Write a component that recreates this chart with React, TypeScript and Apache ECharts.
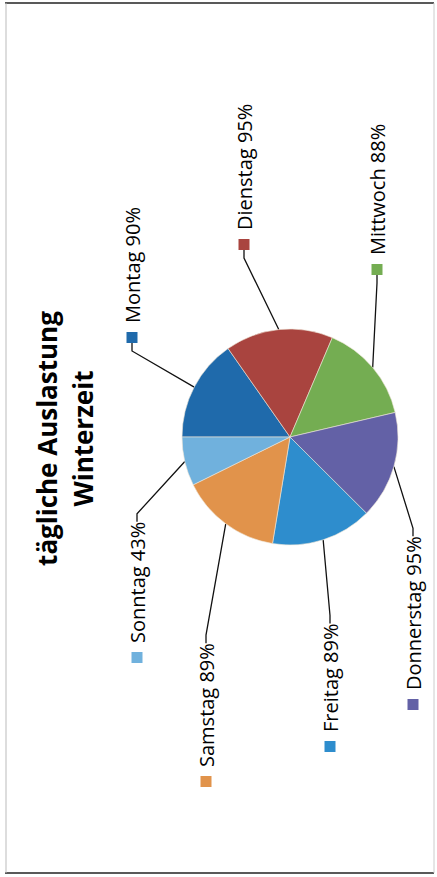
import React, { useEffect, useRef } from "react";
import * as echarts from "echarts";

// Data
const days: string[] = ["Montag", "Dienstag", "Mittwoch", "Donnerstag", "Freitag", "Samstag", "Sonntag"];
const utilization: number[] = [90, 95, 88, 95, 89, 89, 43];
const titleLines: string[] = ["tägliche Auslastung", "Winterzeit"];

// Styling
const colors: string[] = ["#1f6aab", "#a9443f", "#74ad52", "#6361a6", "#2e8dcd", "#e1934b", "#70b1dd"];
// label anchors (left edge, vertical centre) in the unrotated chart frame
const labelPos: number[][] = [
  [534, 132],
  [627, 244],
  [602, 377],
  [167, 413],
  [125, 330],
  [90, 206],
  [214, 137],
];

const W = 877;
const H = 437;

export default function App() {
  const ref = useRef<HTMLDivElement>(null);

  useEffect(() => {
    if (!ref.current) return;
    const chart = echarts.init(ref.current, undefined, { renderer: "svg" });
    const rich: Record<string, any> = {
      t: {
        fontFamily: "Open Sans",
        fontSize: 20,
        color: "#000000",
        padding: [0, 0, 0, 9],
        verticalAlign: "middle",
      },
    };
    colors.forEach((c, i) => {
      rich["s" + i] = { width: 11, height: 11, backgroundColor: c, verticalAlign: "middle" };
    });

    chart.setOption({
      animation: false,
      backgroundColor: "#ffffff",
      title: {
        text: titleLines.join("\n"),
        left: "center",
        top: 24,
        textStyle: {
          fontFamily: "Open Sans",
          fontSize: 26,
          fontWeight: "bold",
          lineHeight: 36,
          color: "#000000",
        },
      },
      graphic: [
        { type: "line", shape: { x1: 4, y1: 5, x2: 4, y2: 434 }, style: { stroke: "#222", lineWidth: 1.6 } },
        { type: "line", shape: { x1: 874, y1: 5, x2: 874, y2: 434 }, style: { stroke: "#222", lineWidth: 1.6 } },
        { type: "line", shape: { x1: 4, y1: 6, x2: 874, y2: 6 }, style: { stroke: "#bbbbbb", lineWidth: 1 } },
        { type: "line", shape: { x1: 4, y1: 434, x2: 874, y2: 434 }, style: { stroke: "#cccccc", lineWidth: 1 } },
      ],
      series: [
        {
          type: "pie",
          center: [440, 290],
          radius: 108,
          startAngle: 90,
          clockwise: true,
          avoidLabelOverlap: false,
          itemStyle: { borderColor: "#efe6d6", borderWidth: 0.6 },
          data: days.map((d, i) => ({
            name: d,
            value: utilization[i],
            itemStyle: { color: colors[i] },
          })),
          label: {
            show: true,
            position: "outside",
            formatter: (p: any) => `{s${p.dataIndex}|}{t|${p.name} ${p.value}%}`,
            rich,
          },
          labelLine: {
            show: true,
            length: 8,
            length2: 8,
            lineStyle: { color: "#111111", width: 1.3 },
          },
          labelLayout: (p: any) => ({
            x: labelPos[p.dataIndex][0],
            y: labelPos[p.dataIndex][1],
            align: "left",
            verticalAlign: "middle",
          }),
        },
      ],
    });
    return () => chart.dispose();
  }, []);

  return (
    <div
      style={{
        position: "fixed",
        left: 0,
        top: 0,
        width: 437,
        height: 877,
        overflow: "hidden",
        background: "#ffffff",
      }}
    >
      <div
        ref={ref}
        style={{
          position: "absolute",
          left: 0,
          top: 0,
          width: W,
          height: H,
          transformOrigin: "0 0",
          transform: `translate(0px, ${W}px) rotate(-90deg)`,
        }}
      />
    </div>
  );
}
